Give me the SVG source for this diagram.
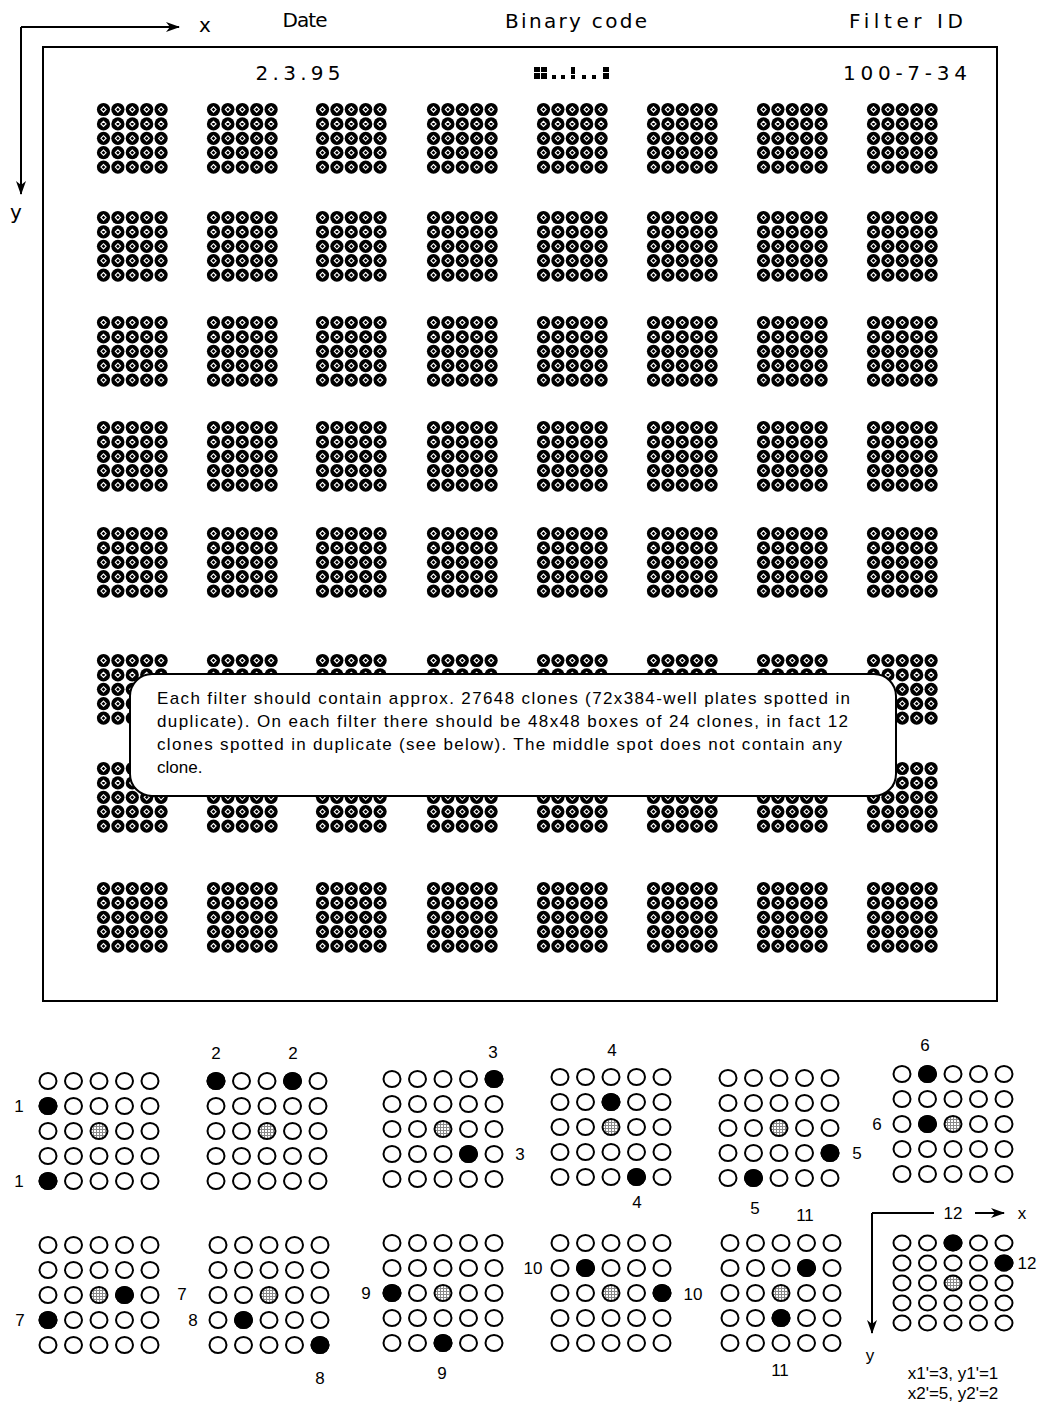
<svg xmlns="http://www.w3.org/2000/svg" xmlns:xlink="http://www.w3.org/1999/xlink" width="1044" height="1406" viewBox="0 0 1044 1406">
<style>
.h{font-family:"DejaVu Sans","Liberation Sans",sans-serif;font-size:20px;fill:#000}
.n{font-family:"Liberation Sans",Arial,sans-serif;font-size:17px;fill:#000;text-anchor:middle}
.t{font-family:"Liberation Sans",Arial,sans-serif;font-size:17px;fill:#000}
.ln{fill:none;stroke:#000;stroke-width:2}
.o{fill:#fff;stroke:#000;stroke-width:2}
.f{fill:#000;stroke:#000;stroke-width:2}
.m{fill:url(#hatch);stroke:#000;stroke-width:2}
</style>
<defs>
<marker id="arr" markerUnits="userSpaceOnUse" viewBox="0 0 14 10" refX="13" refY="5" markerWidth="14" markerHeight="10" orient="auto">
<path d="M0,0 L14,5 L0,10 L4,5 Z" fill="#000"/>
</marker>
<pattern id="hatch" patternUnits="userSpaceOnUse" width="3" height="3">
<rect width="3" height="3" fill="#fff"/>
<path d="M0,0.5 H3 M0.5,0 V3" stroke="#888" stroke-width="1"/>
</pattern>
<g id="spot">
<circle r="6.6" fill="#000"/>
<path d="M-2.6,0 L0,-2.6 L2.6,0 L0,2.6 Z" fill="none" stroke="#fff" stroke-width="1.1"/>
</g>
<g id="box">
<use href="#spot" x="6.5" y="6.5"/><use href="#spot" x="20.9" y="6.5"/><use href="#spot" x="35.3" y="6.5"/><use href="#spot" x="49.7" y="6.5"/><use href="#spot" x="64.1" y="6.5"/>
<use href="#spot" x="6.5" y="20.9"/><use href="#spot" x="20.9" y="20.9"/><use href="#spot" x="35.3" y="20.9"/><use href="#spot" x="49.7" y="20.9"/><use href="#spot" x="64.1" y="20.9"/>
<use href="#spot" x="6.5" y="35.3"/><use href="#spot" x="20.9" y="35.3"/><use href="#spot" x="35.3" y="35.3"/><use href="#spot" x="49.7" y="35.3"/><use href="#spot" x="64.1" y="35.3"/>
<use href="#spot" x="6.5" y="49.7"/><use href="#spot" x="20.9" y="49.7"/><use href="#spot" x="35.3" y="49.7"/><use href="#spot" x="49.7" y="49.7"/><use href="#spot" x="64.1" y="49.7"/>
<use href="#spot" x="6.5" y="64.1"/><use href="#spot" x="20.9" y="64.1"/><use href="#spot" x="35.3" y="64.1"/><use href="#spot" x="49.7" y="64.1"/><use href="#spot" x="64.1" y="64.1"/>
</g>
<g id="boxrow">
<use href="#box" x="97"/><use href="#box" x="207"/><use href="#box" x="316"/><use href="#box" x="427"/><use href="#box" x="537"/><use href="#box" x="647"/><use href="#box" x="757"/><use href="#box" x="867"/>
</g>
<g id="grid">
<ellipse class="o" cx="0" cy="0" rx="8.5" ry="8"/><ellipse class="o" cx="25.5" cy="0" rx="8.5" ry="8"/><ellipse class="o" cx="51" cy="0" rx="8.5" ry="8"/><ellipse class="o" cx="76.5" cy="0" rx="8.5" ry="8"/><ellipse class="o" cx="102" cy="0" rx="8.5" ry="8"/>
<ellipse class="o" cx="0" cy="25" rx="8.5" ry="8"/><ellipse class="o" cx="25.5" cy="25" rx="8.5" ry="8"/><ellipse class="o" cx="51" cy="25" rx="8.5" ry="8"/><ellipse class="o" cx="76.5" cy="25" rx="8.5" ry="8"/><ellipse class="o" cx="102" cy="25" rx="8.5" ry="8"/>
<ellipse class="o" cx="0" cy="50" rx="8.5" ry="8"/><ellipse class="o" cx="25.5" cy="50" rx="8.5" ry="8"/><ellipse class="m" cx="51" cy="50" rx="8.5" ry="8"/><ellipse class="o" cx="76.5" cy="50" rx="8.5" ry="8"/><ellipse class="o" cx="102" cy="50" rx="8.5" ry="8"/>
<ellipse class="o" cx="0" cy="75" rx="8.5" ry="8"/><ellipse class="o" cx="25.5" cy="75" rx="8.5" ry="8"/><ellipse class="o" cx="51" cy="75" rx="8.5" ry="8"/><ellipse class="o" cx="76.5" cy="75" rx="8.5" ry="8"/><ellipse class="o" cx="102" cy="75" rx="8.5" ry="8"/>
<ellipse class="o" cx="0" cy="100" rx="8.5" ry="8"/><ellipse class="o" cx="25.5" cy="100" rx="8.5" ry="8"/><ellipse class="o" cx="51" cy="100" rx="8.5" ry="8"/><ellipse class="o" cx="76.5" cy="100" rx="8.5" ry="8"/><ellipse class="o" cx="102" cy="100" rx="8.5" ry="8"/>
</g>
<g id="gridc">
<ellipse class="o" cx="0" cy="0" rx="8.5" ry="7.5"/><ellipse class="o" cx="25.5" cy="0" rx="8.5" ry="7.5"/><ellipse class="o" cx="51" cy="0" rx="8.5" ry="7.5"/><ellipse class="o" cx="76.5" cy="0" rx="8.5" ry="7.5"/><ellipse class="o" cx="102" cy="0" rx="8.5" ry="7.5"/>
<ellipse class="o" cx="0" cy="20" rx="8.5" ry="7.5"/><ellipse class="o" cx="25.5" cy="20" rx="8.5" ry="7.5"/><ellipse class="o" cx="51" cy="20" rx="8.5" ry="7.5"/><ellipse class="o" cx="76.5" cy="20" rx="8.5" ry="7.5"/><ellipse class="o" cx="102" cy="20" rx="8.5" ry="7.5"/>
<ellipse class="o" cx="0" cy="40" rx="8.5" ry="7.5"/><ellipse class="o" cx="25.5" cy="40" rx="8.5" ry="7.5"/><ellipse class="m" cx="51" cy="40" rx="8.5" ry="7.5"/><ellipse class="o" cx="76.5" cy="40" rx="8.5" ry="7.5"/><ellipse class="o" cx="102" cy="40" rx="8.5" ry="7.5"/>
<ellipse class="o" cx="0" cy="60" rx="8.5" ry="7.5"/><ellipse class="o" cx="25.5" cy="60" rx="8.5" ry="7.5"/><ellipse class="o" cx="51" cy="60" rx="8.5" ry="7.5"/><ellipse class="o" cx="76.5" cy="60" rx="8.5" ry="7.5"/><ellipse class="o" cx="102" cy="60" rx="8.5" ry="7.5"/>
<ellipse class="o" cx="0" cy="80" rx="8.5" ry="7.5"/><ellipse class="o" cx="25.5" cy="80" rx="8.5" ry="7.5"/><ellipse class="o" cx="51" cy="80" rx="8.5" ry="7.5"/><ellipse class="o" cx="76.5" cy="80" rx="8.5" ry="7.5"/><ellipse class="o" cx="102" cy="80" rx="8.5" ry="7.5"/>
</g>
</defs>
<rect width="1044" height="1406" fill="#fff"/>

<g id="connectors">
<path class="ln" d="M21,27 H179" marker-end="url(#arr)"/>
<path class="ln" d="M21,27 V194" marker-end="url(#arr)"/>
<path class="ln" d="M872,1213 H934"/>
<path class="ln" d="M975,1213 H1004" marker-end="url(#arr)"/>
<path class="ln" d="M872,1213 V1333" marker-end="url(#arr)"/>
</g>

<g id="header">
<text class="h" x="205" y="32" text-anchor="middle">x</text>
<text class="h" x="16" y="219" text-anchor="middle">y</text>
<text class="h" x="305" y="27" text-anchor="middle" textLength="45" lengthAdjust="spacing">Date</text>
<text class="h" x="576" y="28" text-anchor="middle" textLength="142" lengthAdjust="spacing">Binary code</text>
<text class="h" x="906" y="28" text-anchor="middle" textLength="114" lengthAdjust="spacing">Filter ID</text>
</g>

<g id="filter">
<rect class="ln" x="43" y="47" width="954" height="954"/>
<text class="h" x="298" y="80" text-anchor="middle" textLength="85" lengthAdjust="spacing">2.3.95</text>
<text class="h" x="905" y="80" text-anchor="middle" textLength="124" lengthAdjust="spacing">100-7-34</text>
<g id="binary" fill="#000">
<rect x="534" y="67" width="6" height="5"/><rect x="534" y="73" width="6" height="6"/>
<rect x="541" y="67" width="6" height="5"/><rect x="541" y="73" width="6" height="6"/>
<rect x="552" y="75" width="4" height="4"/><rect x="561" y="75" width="4" height="4"/>
<rect x="571" y="67" width="4" height="7"/><rect x="571" y="75" width="4" height="4"/>
<rect x="582" y="75" width="4" height="4"/><rect x="592" y="75" width="4" height="4"/>
<rect x="603" y="67" width="6" height="5"/><rect x="603" y="73" width="6" height="6"/>
</g>
<g id="boxes">
<use href="#boxrow" y="103"/>
<use href="#boxrow" y="211"/>
<use href="#boxrow" y="316"/>
<use href="#boxrow" y="421"/>
<use href="#boxrow" y="527"/>
<use href="#boxrow" y="654"/>
<use href="#boxrow" y="762"/>
<use href="#boxrow" y="882"/>
</g>
</g>

<g id="note">
<rect x="130" y="674" width="766" height="122" rx="22" fill="#fff" stroke="#000" stroke-width="2"/>
<text class="t" x="157" y="704" textLength="693" lengthAdjust="spacing">Each filter should contain approx. 27648 clones (72x384-well plates spotted in</text>
<text class="t" x="157" y="727" textLength="691" lengthAdjust="spacing">duplicate). On each filter there should be 48x48 boxes of 24 clones, in fact 12</text>
<text class="t" x="157" y="750" textLength="685" lengthAdjust="spacing">clones spotted in duplicate (see below). The middle spot does not contain any</text>
<text class="t" x="157" y="773">clone.</text>
</g>

<g id="ex1">
<use href="#grid" x="48" y="1081"/>
<ellipse class="f" cx="48" cy="1106" rx="8.5" ry="8"/><ellipse class="f" cx="48" cy="1181" rx="8.5" ry="8"/>
<text class="n" x="19" y="1112">1</text><text class="n" x="19" y="1187">1</text>
</g>
<g id="ex2">
<use href="#grid" x="216" y="1081"/>
<ellipse class="f" cx="216" cy="1081" rx="8.5" ry="8"/><ellipse class="f" cx="292.5" cy="1081" rx="8.5" ry="8"/>
<text class="n" x="216" y="1059">2</text><text class="n" x="293" y="1059">2</text>
</g>
<g id="ex3">
<use href="#grid" x="392" y="1079"/>
<ellipse class="f" cx="494" cy="1079" rx="8.5" ry="8"/><ellipse class="f" cx="468.5" cy="1154" rx="8.5" ry="8"/>
<text class="n" x="493" y="1058">3</text><text class="n" x="520" y="1160">3</text>
</g>
<g id="ex4">
<use href="#grid" x="560" y="1077"/>
<ellipse class="f" cx="611" cy="1102" rx="8.5" ry="8"/><ellipse class="f" cx="636.5" cy="1177" rx="8.5" ry="8"/>
<text class="n" x="612" y="1056">4</text><text class="n" x="637" y="1208">4</text>
</g>
<g id="ex5">
<use href="#grid" x="728" y="1078"/>
<ellipse class="f" cx="830" cy="1153" rx="8.5" ry="8"/><ellipse class="f" cx="753.5" cy="1178" rx="8.5" ry="8"/>
<text class="n" x="857" y="1159">5</text><text class="n" x="755" y="1214">5</text>
</g>
<g id="ex6">
<use href="#grid" x="902" y="1074"/>
<ellipse class="f" cx="927.5" cy="1074" rx="8.5" ry="8"/><ellipse class="f" cx="927.5" cy="1124" rx="8.5" ry="8"/>
<text class="n" x="925" y="1051">6</text><text class="n" x="877" y="1130">6</text>
</g>
<g id="ex7">
<use href="#grid" x="48" y="1245"/>
<ellipse class="f" cx="124.5" cy="1295" rx="8.5" ry="8"/><ellipse class="f" cx="48" cy="1320" rx="8.5" ry="8"/>
<text class="n" x="20" y="1326">7</text>
</g>
<g id="ex8">
<use href="#grid" x="218" y="1245"/>
<ellipse class="f" cx="243.5" cy="1320" rx="8.5" ry="8"/><ellipse class="f" cx="320" cy="1345" rx="8.5" ry="8"/>
<text class="n" x="182" y="1300">7</text><text class="n" x="193" y="1326">8</text><text class="n" x="320" y="1384">8</text>
</g>
<g id="ex9">
<use href="#grid" x="392" y="1243"/>
<ellipse class="f" cx="392" cy="1293" rx="8.5" ry="8"/><ellipse class="f" cx="443" cy="1343" rx="8.5" ry="8"/>
<text class="n" x="366" y="1299">9</text><text class="n" x="442" y="1379">9</text>
</g>
<g id="ex10">
<use href="#grid" x="560" y="1243"/>
<ellipse class="f" cx="585.5" cy="1268" rx="8.5" ry="8"/><ellipse class="f" cx="662" cy="1293" rx="8.5" ry="8"/>
<text class="n" x="533" y="1274">10</text><text class="n" x="693" y="1300">10</text>
</g>
<g id="ex11">
<use href="#grid" x="730" y="1243"/>
<ellipse class="f" cx="806.5" cy="1268" rx="8.5" ry="8"/><ellipse class="f" cx="781" cy="1318" rx="8.5" ry="8"/>
<text class="n" x="805" y="1221">11</text><text class="n" x="780" y="1376">11</text>
</g>
<g id="ex12">
<use href="#gridc" x="902" y="1243"/>
<ellipse class="f" cx="953" cy="1243" rx="8.5" ry="7.5"/><ellipse class="f" cx="1004" cy="1263" rx="8.5" ry="7.5"/>
<text class="n" x="1027" y="1269">12</text><text class="n" x="953" y="1219">12</text>
<text class="n" x="1022" y="1219">x</text>
<text class="n" x="870" y="1361">y</text>
<text class="n" x="953" y="1379">x1'=3, y1'=1</text>
<text class="n" x="953" y="1399">x2'=5, y2'=2</text>
</g>
</svg>
